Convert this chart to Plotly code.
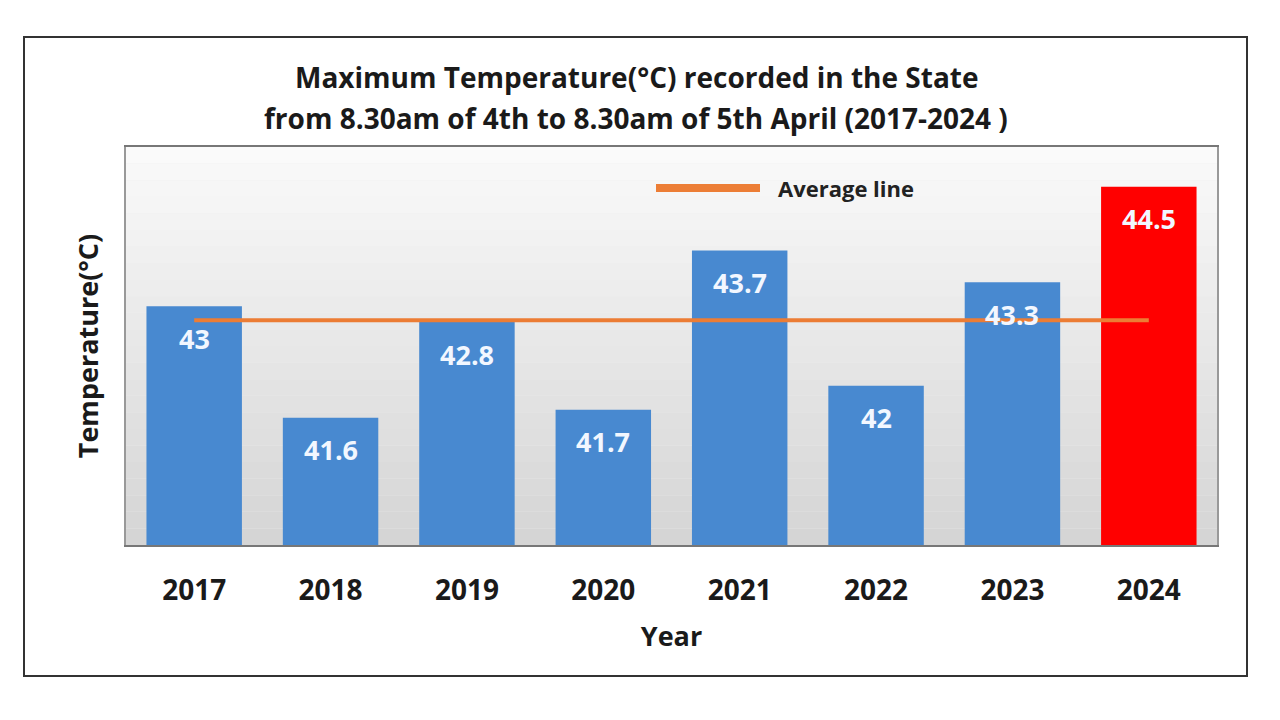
import plotly.graph_objects as go

years = ["2017", "2018", "2019", "2020", "2021", "2022", "2023", "2024"]
temps = [43, 41.6, 42.8, 41.7, 43.7, 42, 43.3, 44.5]
bar_colors = ["#4889d0"] * 7 + ["#ff0000"]
avg = sum(temps) / len(temps)

title_line1 = "Maximum Temperature(°C) recorded in the State"
title_line2 = "from 8.30am of 4th to 8.30am of 5th April (2017-2024 )"
x_title = "Year"
y_title = "Temperature(°C)"
legend_label = "Average line"

FONT = "Open Sans"

# plot area geometry (pixels in the final page)
PL, PR, PT, PB = 126, 1217, 147, 545
PW, PH = PR - PL, PB - PT
OFF = 8  # page offset of the figure


def px(x):
    return (x - PL) / PW


def py(y):
    return (PB - y) / PH


fig = go.Figure()

fig.add_trace(go.Bar(
    x=years, y=temps, marker=dict(color=bar_colors, line=dict(width=0)),
    width=0.7, showlegend=False, hoverinfo="x+y",
))

fig.add_trace(go.Scatter(
    x=[years[0], years[-1]], y=[avg, avg], mode="lines",
    line=dict(color="#ec7d35", width=4), showlegend=False, name=legend_label,
))

# value labels inside bars near the top
for i, t in enumerate(temps):
    fig.add_annotation(
        x=i, y=t, text=f"{t:g}", showarrow=False, yshift=-32,
        font=dict(family=FONT, size=27, color="#f2f7ff", weight="bold"),
    )

# gradient background of plot area
n = 24
for i in range(n):
    frac = i / n
    c = int(250 - (250 - 212) * frac)
    fig.add_shape(
        type="rect", xref="x domain", yref="y domain",
        x0=0, x1=1, y0=1 - (i + 1) / n, y1=1 - i / n,
        fillcolor=f"rgb({c},{c},{c})", line=dict(width=0), layer="below",
    )

# title lines
fig.add_annotation(text=title_line1, xref="paper", yref="paper",
                   x=px(636), y=py(77), showarrow=False,
                   xanchor="center", yanchor="middle",
                   font=dict(family=FONT, size=28, color="#1a1a1a", weight="bold"))
fig.add_annotation(text=title_line2, xref="paper", yref="paper",
                   x=px(636), y=py(118), showarrow=False,
                   xanchor="center", yanchor="middle",
                   font=dict(family=FONT, size=28, color="#1a1a1a", weight="bold"))

# manual legend
fig.add_shape(type="line", xref="paper", yref="paper",
              x0=px(656), x1=px(760), y0=py(188), y1=py(188),
              line=dict(color="#ec7d35", width=8))
fig.add_annotation(text=legend_label, xref="paper", yref="paper",
                   x=px(776), y=py(188), showarrow=False,
                   xanchor="left", yanchor="middle",
                   font=dict(family=FONT, size=22, color="#222222", weight="bold"))

# outer frame rectangle
fig.add_shape(type="rect", xref="paper", yref="paper",
              x0=px(24), x1=px(1247), y0=py(676), y1=py(37),
              line=dict(color="#333333", width=2), layer="below")

fig.update_layout(
    width=1280, height=720,
    margin=dict(l=PL - OFF, r=1280 - PR + OFF, t=PT - OFF, b=720 - PB + OFF),
    paper_bgcolor="white",
    plot_bgcolor="#eeeeee",
)

fig.update_xaxes(
    type="category", range=[-0.5, 7.5],
    showline=True, linecolor="#777777", linewidth=2, mirror=True,
    showgrid=False, ticks="outside", ticklen=0, ticklabelstandoff=19,
    tickfont=dict(family=FONT, size=28, color="#1a1a1a", weight="bold"),
    title=dict(text=x_title, standoff=21,
               font=dict(family=FONT, size=27, color="#1a1a1a", weight="bold")),
)
fig.update_yaxes(
    range=[40, 45], showticklabels=False, showgrid=False, zeroline=False,
    showline=True, linecolor="#999999", linewidth=1.5, mirror=True, ticks="",
    title=dict(text=y_title, standoff=18,
               font=dict(family=FONT, size=27, color="#1a1a1a", weight="bold")),
)

fig.write_html("out.html")
